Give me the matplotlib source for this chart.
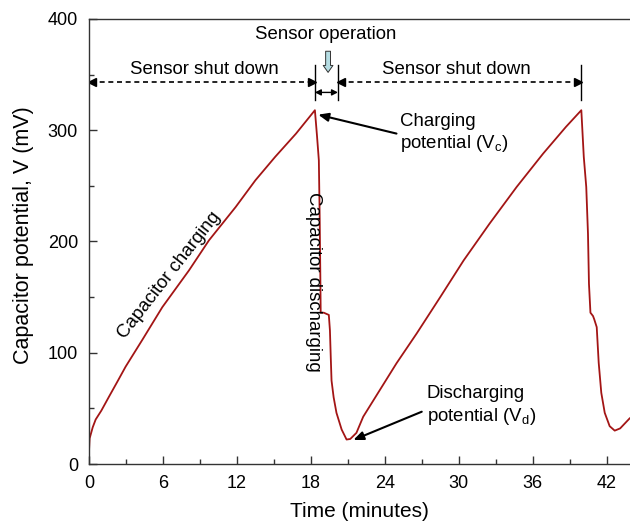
import matplotlib
matplotlib.use("Agg")
import matplotlib.pyplot as plt
from matplotlib.ticker import MultipleLocator

plt.rcParams["font.family"] = ["Liberation Sans", "DejaVu Sans"]
plt.rcParams["mathtext.fontset"] = "custom"
plt.rcParams["mathtext.rm"] = "Liberation Sans"
plt.rcParams["mathtext.it"] = "Liberation Sans"

# capacitor potential trace (minutes, mV)
time_min = [0, 0.05, 0.3, 0.54, 1.0, 1.62, 2.3, 2.97, 4.32, 5.95, 8.11, 9.73,
            11.9, 13.5, 15.1, 16.8, 18.33,
            18.5, 18.65, 18.72, 18.77, 18.8, 19.05, 19.46, 19.55, 19.62, 19.68,
            19.85, 20.08, 20.5, 20.9,
            21.2, 21.7, 22.25, 23.6, 24.95, 26.6, 28.5, 30.4, 32.5, 34.7, 36.85,
            38.7, 39.95,
            40.15, 40.35, 40.49, 40.57, 40.69, 40.9, 41.0, 41.2, 41.36, 41.57,
            41.85, 42.25, 42.66, 43.1, 43.87]
potential_mv = [12, 23, 33, 40, 48, 60.5, 74, 87.5, 111.5, 141, 174, 201,
                231, 255, 276, 297, 318,
                295, 273, 220, 170, 136, 136, 134, 120, 95, 75,
                60, 46, 31, 22,
                22.5, 28, 42.5, 66.5, 90.5, 117.5, 150, 183, 216, 249, 279,
                303, 318,
                276, 249, 207, 162, 136, 133, 130, 123, 91, 64,
                46, 34, 30, 32, 41]

x_ticks = [0, 6, 12, 18, 24, 30, 36, 42]
y_ticks = [0, 100, 200, 300, 400]

# sensor phases (minutes) and level of the dashed markers (mV)
t_peak1 = 18.33
t_op_end = 20.2
t_peak2 = 39.95
phase_level = 343

fig = plt.figure(figsize=(6.3, 5.23), dpi=100)
ax = fig.add_axes([0.1413, 0.1128, 0.8587, 0.8509])

ax.plot(time_min, potential_mv, color="#a31515", linewidth=1.3)

ax.set_xlim(0, 43.9)
ax.set_ylim(0, 400)
ax.set_xticks(x_ticks)
ax.set_yticks(y_ticks)
ax.xaxis.set_minor_locator(MultipleLocator(3))
ax.yaxis.set_minor_locator(MultipleLocator(50))
ax.tick_params(which="both", direction="in", labelsize=13, color="#333333", width=1.0, pad=8)
ax.tick_params(which="major", length=6)
ax.tick_params(which="minor", length=3.6)
ax.spines["right"].set_visible(False)
for side in ("left", "bottom", "top"):
    ax.spines[side].set_color("#333333")
    ax.spines[side].set_linewidth(1.0)

ax.set_xlabel("Time (minutes)", fontsize=15, va="top")
ax.set_ylabel("Capacitor potential, V (mV)", fontsize=15.5)
ax.xaxis.set_label_coords(0.5, -0.086)
ax.yaxis.set_label_coords(-0.101, 0.515)

# phase markers
dash = dict(color="black", linewidth=1.2, linestyle=(0, (3, 2.2)))
ax.plot([0.15, t_peak1 - 0.15], [phase_level, phase_level], **dash)
ax.plot([t_op_end + 0.15, t_peak2 - 0.15], [phase_level, phase_level], **dash)
head = dict(color="black", markersize=6, linestyle="none")
ax.plot([0.25], [phase_level], marker="<", **head)
ax.plot([t_peak1 - 0.25], [phase_level], marker=">", **head)
ax.plot([t_op_end + 0.25], [phase_level], marker="<", **head)
ax.plot([t_peak2 - 0.25], [phase_level], marker=">", **head)
for t in (t_peak1, t_op_end, t_peak2):
    ax.plot([t, t], [327, 359], color="black", linewidth=1.0)
ax.annotate("", xy=(t_peak1, 334), xytext=(t_op_end, 334),
            arrowprops=dict(arrowstyle="<|-|>,head_length=0.35,head_width=0.18",
                            color="black", lw=1.0, shrinkA=0, shrinkB=0))

fs = 13.4
ax.text(9.4, 355, "Sensor shut down", fontsize=fs, ha="center", va="center")
ax.text(29.8, 355, "Sensor shut down", fontsize=fs, ha="center", va="center")
ax.text(19.2, 386, "Sensor operation", fontsize=fs, ha="center", va="center")
ax.annotate("", xy=(19.4, 352), xytext=(19.4, 371),
            arrowprops=dict(arrowstyle="simple,head_length=0.5,head_width=0.7,tail_width=0.35",
                            fc="#b5dde3", ec="#333333", lw=0.7, shrinkA=0, shrinkB=0))

# curve labels
ax.text(6.5, 170, "Capacitor charging", fontsize=fs, rotation=52,
        rotation_mode="anchor", ha="center", va="center")
ax.text(18.25, 164, "Capacitor discharging", fontsize=fs, rotation=270,
        rotation_mode="anchor", ha="center", va="center")

ax.text(25.2, 297, "Charging\npotential (V$_\\mathrm{c}$)", fontsize=fs,
        ha="left", va="center", linespacing=1.25)
ax.annotate("", xy=(18.6, 314), xytext=(24.95, 297),
            arrowprops=dict(arrowstyle="-|>,head_length=0.6,head_width=0.25",
                            color="black", lw=1.5, shrinkA=0, shrinkB=0))
ax.text(27.4, 52, "Discharging\npotential (V$_\\mathrm{d}$)", fontsize=fs,
        ha="left", va="center", linespacing=1.25)
ax.annotate("", xy=(21.45, 21.6), xytext=(27.0, 47),
            arrowprops=dict(arrowstyle="-|>,head_length=0.6,head_width=0.25",
                            color="black", lw=1.5, shrinkA=0, shrinkB=0))

fig.savefig("out.png", dpi=100)
